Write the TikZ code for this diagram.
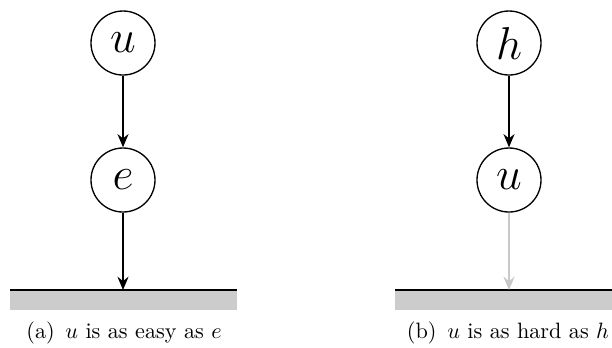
\documentclass[tikz,border=0pt]{standalone}
\usetikzlibrary{arrows.meta}
\definecolor{barfill}{HTML}{CCCCCC}
\definecolor{lightarrow}{HTML}{C8C8C8}
\begin{document}
\begin{tikzpicture}[x=0.45pt,y=-0.45pt,
  var/.style={circle,draw,line width=0.6pt,minimum size=28.8pt,inner sep=0pt,font=\huge},
  edge/.style={-{Stealth[length=6pt,width=5pt,inset=2pt]},line width=0.6pt},
  lightedge/.style={edge,draw=lightarrow},
  captext/.style={anchor=base,inner sep=0pt,font=\fontsize{10}{12}\selectfont}]
\useasboundingbox (0,0) rectangle (612,347);
% (a)
\node[var] (u1) at (123,43) {$u$};
\node[var] (e1) at (123,180) {$e$};
\fill[barfill] (10,290) rectangle (237,309.5);
\draw[line width=0.9pt] (10,290) -- (237,290);
\coordinate (g1) at (123,290);
\draw[edge] (u1) -- (e1);
\draw[edge] (e1) -- (g1);
\node[captext] (ca) at (124,338.5) {(a)\hspace{4.8pt}$u$ is as easy as $e$};
% (b)
\node[var] (h2) at (509,43) {$h$};
\node[var] (u2) at (509,180) {$u$};
\fill[barfill] (395,290) rectangle (622,309.5);
\draw[line width=0.9pt] (395,290) -- (622,290);
\coordinate (g2) at (509,290);
\draw[edge] (h2) -- (u2);
\draw[lightedge] (u2) -- (g2);
\node[captext] (cb) at (508,338.5) {(b)\hspace{4.8pt}$u$ is as hard as $h$};
\end{tikzpicture}
\end{document}
